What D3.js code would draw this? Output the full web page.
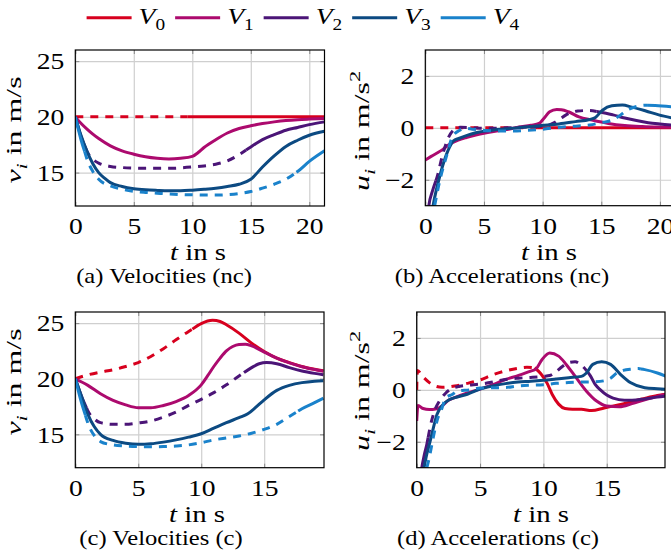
<!DOCTYPE html>
<html>
<head>
<meta charset="utf-8">
<script src="https://cdn.jsdelivr.net/npm/d3@7"></script>
<style>
  body { margin: 0; background: #fff; }
  text { font-family: "Liberation Serif", "Times New Roman", serif; fill: #000; }
</style>
</head>
<body>
<svg id="fig" width="671" height="556"></svg>
<script>
var vehicles = ["0", "1", "2", "3", "4"];
var colors = ["#d7001e", "#ac0a6e", "#4b1577", "#0c4a82", "#1a82cb"];

// dashed time intervals per vehicle (null = solid all the way)
var dashNc = [[0, 9.6], null, [0.9, 14.6], null, [0.8, 18.9]];
var dashC = [[0, 9.3], null, [0.9, 13.4], null, [0.8, 17.7]];

// (a) velocities, no coordination
var velNc0 = [[0,20],[21.3,20]];
var velNc1 = [[0,20],[0.5,19.4],[1,18.9],[1.5,18.45],[2,18.05],[3,17.4],[4,16.95],[5,16.65],[6,16.42],[7,16.28],[8,16.22],[9,16.28],[10,16.45],[10.5,16.8],[11,17.25],[12,17.95],[13,18.55],[14,18.95],[15,19.2],[16,19.4],[17,19.55],[18,19.67],[19,19.75],[20,19.8],[21.3,19.85]];
var velNc2 = [[0,20],[0.5,18.2],[1,16.9],[1.5,16.2],[2,15.85],[3,15.55],[4,15.45],[5,15.4],[6,15.38],[7,15.38],[8,15.38],[9,15.42],[10,15.5],[11,15.6],[12,15.75],[13,16.05],[14,16.6],[15,17.3],[16,17.95],[17,18.4],[18,18.8],[19,19.05],[20,19.3],[21.3,19.55]];
var velNc3 = [[0,20],[0.5,18.3],[1,16.9],[1.5,15.8],[2,15.0],[2.5,14.5],[3,14.1],[4,13.75],[5,13.55],[6,13.45],[7,13.4],[8,13.37],[9,13.37],[10,13.42],[11,13.5],[12,13.6],[13,13.75],[14,13.95],[15,14.4],[16,15.5],[17,16.5],[18,17.35],[19,17.9],[20,18.35],[21.3,18.7]];
var velNc4 = [[0,20],[0.5,17.9],[1,16.2],[1.5,15.1],[2,14.4],[3,13.8],[4,13.5],[5,13.32],[6,13.22],[7,13.15],[8,13.08],[9,13.03],[10,13.0],[11,12.98],[12,12.98],[13,13.02],[14,13.12],[15,13.3],[16,13.6],[17,13.95],[18,14.4],[19,15.1],[20,16.0],[21.3,16.95]];

// (b) accelerations, no coordination
var accNc0 = [[0,0],[21.3,0]];
var accNc1 = [[0,-1.24],[0.5,-1.1],[1,-0.97],[1.5,-0.83],[2,-0.65],[2.8,-0.47],[3.5,-0.37],[4.3,-0.28],[5,-0.21],[5.7,-0.15],[6.5,-0.09],[7.1,-0.05],[8,0.03],[9,0.1],[9.7,0.17],[10.1,0.36],[10.6,0.62],[11.2,0.71],[11.6,0.7],[12.2,0.62],[13.1,0.42],[14.2,0.3],[15.6,0.17],[17,0.09],[18.5,0.05],[19.9,0.03],[21.3,0.02]];
var accNc2 = [[0,-4.6],[0.3,-3.0],[0.6,-2.45],[1,-1.9],[1.5,-1.0],[2,-0.35],[2.5,-0.05],[3,0.02],[4,0.0],[5,-0.02],[6,-0.02],[7,0.0],[8,0.02],[9,0.04],[10,0.07],[10.5,0.1],[11,0.2],[11.5,0.35],[12,0.5],[12.5,0.6],[13,0.65],[14,0.67],[15,0.6],[16,0.5],[17,0.38],[18,0.28],[19,0.2],[20,0.15],[21.3,0.1]];
var accNc3 = [[0,-5],[0.66,-3.0],[1.3,-1.75],[1.95,-0.86],[2.4,-0.5],[2.85,-0.41],[3.5,-0.3],[4.3,-0.19],[5.7,-0.09],[7.1,-0.03],[8.5,0.03],[9.9,0.09],[11.4,0.15],[12.8,0.24],[14,0.32],[14.5,0.4],[15.1,0.68],[15.9,0.85],[16.8,0.88],[17.6,0.8],[18.8,0.65],[19.9,0.5],[21.3,0.36]];
var accNc4 = [[0,-5.5],[0.8,-3.0],[1.2,-2.1],[1.8,-1.1],[2.3,-0.35],[2.9,-0.1],[3.4,-0.02],[4,-0.05],[5,-0.1],[6,-0.12],[7,-0.12],[8.5,-0.1],[9.8,-0.06],[11,0.0],[12,0.04],[13,0.07],[14,0.11],[15,0.2],[15.8,0.28],[16.5,0.45],[17.2,0.68],[18,0.82],[18.8,0.87],[19.6,0.86],[21.3,0.8]];

// (c) velocities, coordinated
var velC0 = [[0,20],[1,20.35],[2,20.6],[3,20.8],[4,21.1],[5,21.45],[6,22.0],[7,22.7],[8,23.5],[9,24.25],[10,24.95],[10.9,25.25],[11.5,25.15],[12,24.85],[13,24.1],[14,23.2],[15,22.45],[16,21.85],[17,21.45],[18,21.1],[19,20.85],[19.7,20.72]];
var velC1 = [[0,20],[1,19.4],[2,18.65],[3,18.05],[4,17.65],[5,17.4],[6,17.4],[7,17.6],[8,17.95],[9,18.5],[10,19.45],[10.5,20.25],[11,21.1],[11.5,21.85],[12,22.5],[12.5,22.9],[13,23.08],[13.5,23.1],[14,22.95],[15,22.4],[16,21.85],[17,21.42],[18,21.08],[19,20.83],[19.7,20.68]];
var velC2 = [[0,20],[0.5,18.4],[1,17.1],[1.5,16.4],[2,16.05],[3,15.9],[4,15.9],[5,16.02],[6,16.2],[7,16.55],[8,17.0],[9,17.6],[10,18.15],[11,18.75],[12,19.45],[13,20.25],[14,21.0],[14.6,21.35],[15.2,21.45],[16,21.35],[17,21.0],[18,20.7],[19,20.48],[19.7,20.35]];
var velC3 = [[0,20],[0.5,18.4],[1,16.8],[1.5,15.7],[2,15.0],[3,14.45],[4,14.2],[5,14.1],[6,14.15],[7,14.3],[8,14.5],[9,14.75],[10,15.05],[11,15.55],[12,16.05],[13,16.5],[13.7,16.85],[14.3,17.4],[15,18.1],[16,18.95],[17,19.4],[18,19.65],[19,19.78],[19.7,19.82]];
var velC4 = [[0,20],[0.5,17.8],[1,16.0],[1.5,14.9],[2,14.35],[3,14.05],[4,13.95],[5,13.9],[6,13.88],[7,13.9],[8,13.95],[9,14.05],[10,14.25],[11,14.5],[12,14.68],[13,14.85],[14,15.1],[15,15.45],[16,15.9],[17,16.6],[18,17.3],[19,17.85],[19.7,18.25]];

// (d) accelerations, coordinated
var accC0 = [[0,0],[0.05,0.75],[0.5,0.5],[1,0.28],[1.5,0.14],[2,0.1],[3,0.15],[4,0.25],[5,0.38],[6,0.58],[7,0.73],[8,0.83],[8.7,0.87],[9.3,0.85],[9.8,0.62],[10.3,0.25],[10.7,-0.18],[11.2,-0.55],[11.7,-0.72],[12.3,-0.75],[13,-0.75],[13.8,-0.8],[14.8,-0.7],[16,-0.57],[17,-0.45],[18,-0.33],[19,-0.22],[19.7,-0.16]];
var accC1 = [[0,-1.2],[0.1,-0.6],[0.5,-0.72],[1,-0.76],[1.5,-0.74],[2,-0.62],[2.5,-0.4],[3,-0.3],[4,-0.12],[5,0.03],[6,0.2],[7,0.4],[8,0.55],[9,0.72],[9.4,0.8],[9.9,1.17],[10.5,1.42],[11.2,1.3],[11.8,0.98],[12.6,0.46],[13.4,-0.05],[14.2,-0.43],[15,-0.62],[16,-0.65],[17,-0.53],[18,-0.38],[19,-0.25],[19.7,-0.17]];
var accC2 = [[0,-4.6],[0.4,-3.0],[0.6,-2.5],[0.8,-2.1],[1.05,-1.46],[1.4,-0.82],[1.8,-0.43],[2.3,-0.12],[2.6,0.0],[3.4,0.14],[4,0.18],[5,0.22],[6,0.3],[7,0.4],[8,0.45],[9,0.48],[10,0.52],[10.5,0.55],[11,0.7],[11.5,0.9],[12,1.05],[12.5,1.08],[13,0.95],[13.4,0.75],[13.7,0.55],[14.1,0.2],[14.5,0.0],[15,-0.2],[15.5,-0.32],[16.4,-0.4],[17,-0.4],[18,-0.35],[19,-0.28],[19.7,-0.24]];
var accC3 = [[0,-5],[0.58,-3.0],[0.74,-2.6],[1,-2.1],[1.2,-1.7],[1.6,-0.95],[2.1,-0.56],[2.6,-0.37],[3,-0.3],[4,-0.17],[5,0.03],[6,0.15],[7,0.24],[8,0.3],[9,0.33],[10,0.37],[11,0.42],[12,0.47],[13,0.52],[13.4,0.65],[13.9,0.98],[14.6,1.08],[15.3,0.98],[16.1,0.59],[16.9,0.27],[18,0.08],[19,0.04],[19.7,0.02]];
var accC4 = [[0,-5.5],[0.8,-3.0],[1.0,-2.6],[1.3,-1.85],[1.6,-1.2],[2.0,-0.7],[2.3,-0.3],[2.8,-0.18],[3.2,-0.05],[4.2,0.0],[5,0.07],[6,0.08],[7,0.09],[8,0.15],[9,0.18],[10,0.2],[11,0.25],[12,0.28],[13,0.3],[14,0.31],[14.8,0.35],[15.3,0.45],[15.8,0.65],[16.3,0.75],[17,0.8],[17.5,0.82],[18,0.78],[19,0.65],[19.7,0.52]];

var velTicks = [15, 20, 25];
var accTicks = [-2, 0, 2];
var timeTicksNc = [0, 5, 10, 15, 20];
var timeTicksC = [0, 5, 10, 15];

var SX = 1.2;       // the figure is stretched horizontally
var LW = 3;
var DASH = "8,7";

var svg = d3.select("#fig");

// text with parts [{t, it, sub, sup}] placed at x,y, stretched horizontally
function label(parent, x, y, parts, size, anchor, rot, sx) {
  var g = parent.append("g")
    .attr("transform", "translate(" + x + "," + y + ")" + (rot ? " rotate(" + rot + ")" : "") + " scale(" + (sx || SX) + ",1)");
  var t = g.append("text").attr("font-size", size).attr("text-anchor", anchor || "start");
  var shift = 0;
  parts.forEach(function (p) {
    var s = t.append("tspan").text(p.t);
    var want = p.sub ? size * 0.28 : (p.sup ? -size * 0.42 : 0);
    if (want !== shift) { s.attr("dy", want - shift); shift = want; }
    if (p.it) s.attr("font-style", "italic");
    if (p.sub || p.sup) s.attr("font-size", size * 0.7);
  });
  return g;
}

function interp(pts, t) {
  for (var i = 1; i < pts.length; i++) {
    if (pts[i][0] >= t) {
      var a = pts[i - 1], b = pts[i];
      var f = (t - a[0]) / (b[0] - a[0]);
      return [t, a[1] + f * (b[1] - a[1])];
    }
  }
  return pts[pts.length - 1];
}
function slice(pts, t0, t1) {
  var out = [interp(pts, t0)];
  pts.forEach(function (p) { if (p[0] > t0 && p[0] < t1) out.push(p); });
  out.push(interp(pts, t1));
  return out;
}

function panel(cfg) {
  var x = d3.scaleLinear().domain([0, cfg.xmax]).range([cfg.left, cfg.right]);
  var y = d3.scaleLinear().domain([cfg.ymin, cfg.ymax]).range([cfg.bottom, cfg.top]);
  var w = cfg.right - cfg.left, h = cfg.bottom - cfg.top;

  // grid
  svg.append("g")
    .attr("transform", "translate(0," + cfg.bottom + ")")
    .call(d3.axisBottom(x).tickValues(cfg.xt).tickSize(-h).tickFormat(""))
    .call(function (g) { g.select(".domain").remove(); g.selectAll("line").attr("stroke", "#cfcfcf").attr("stroke-width", 1.2); });
  svg.append("g")
    .attr("transform", "translate(" + cfg.left + ",0)")
    .call(d3.axisLeft(y).tickValues(cfg.yt).tickSize(-w).tickFormat(""))
    .call(function (g) { g.select(".domain").remove(); g.selectAll("line").attr("stroke", "#cfcfcf").attr("stroke-width", 1.2); });

  // small inner tick marks on all four sides
  [["b", cfg.bottom], ["t", cfg.top]].forEach(function (s) {
    svg.append("g")
      .attr("transform", "translate(0," + s[1] + ")")
      .call((s[0] === "b" ? d3.axisBottom(x) : d3.axisTop(x)).tickValues(cfg.xt).tickSize(-4).tickFormat(""))
      .call(function (g) { g.select(".domain").remove(); g.selectAll("line").attr("stroke", "#888"); });
  });
  [["l", cfg.left], ["r", cfg.right]].forEach(function (s) {
    svg.append("g")
      .attr("transform", "translate(" + s[1] + ",0)")
      .call((s[0] === "l" ? d3.axisLeft(y) : d3.axisRight(y)).tickValues(cfg.yt).tickSize(-4).tickFormat(""))
      .call(function (g) { g.select(".domain").remove(); g.selectAll("line").attr("stroke", "#888"); });
  });

  // curves
  var clipId = "clip" + cfg.id;
  svg.append("clipPath").attr("id", clipId)
    .append("rect").attr("x", cfg.left).attr("y", cfg.top).attr("width", w).attr("height", h);
  var lines = svg.append("g").attr("clip-path", "url(#" + clipId + ")");
  var line = d3.line().x(function (d) { return x(d[0]); }).y(function (d) { return y(d[1]); }).curve(d3.curveMonotoneX);

  cfg.series.forEach(function (pts, i) {
    var tEnd = pts[pts.length - 1][0];
    var iv = cfg.dash[i];
    var segs = iv ? [[0, iv[0], false], [iv[0], iv[1], true], [iv[1], tEnd, false]] : [[0, tEnd, false]];
    segs.forEach(function (s) {
      if (s[1] - s[0] <= 0) return;
      lines.append("path")
        .datum(slice(pts, s[0], s[1]))
        .attr("fill", "none")
        .attr("stroke", colors[i])
        .attr("stroke-width", LW)
        .attr("stroke-dasharray", s[2] ? DASH : null)
        .attr("d", line);
    });
  });

  // frame
  svg.append("rect").attr("x", cfg.left).attr("y", cfg.top).attr("width", w).attr("height", h)
    .attr("fill", "none").attr("stroke", "#000").attr("stroke-width", 1.2);

  // tick labels
  var xa = svg.append("g").attr("transform", "translate(0," + cfg.bottom + ")")
    .call(d3.axisBottom(x).tickValues(cfg.xt).tickSize(0).tickFormat(d3.format("d")));
  xa.select(".domain").remove();
  xa.selectAll("text").attr("x", null).attr("y", null).attr("dy", null)
    .attr("font-size", 23).attr("font-family", null)
    .attr("transform", "translate(0,28) scale(" + SX + ",1)");
  var ya = svg.append("g").attr("transform", "translate(" + cfg.left + ",0)")
    .call(d3.axisLeft(y).tickValues(cfg.yt).tickSize(0).tickFormat(function (d) { return d < 0 ? "\u2212" + (-d) : d; }));
  ya.select(".domain").remove();
  ya.selectAll("text").attr("x", null).attr("dy", "0.34em")
    .attr("font-size", 23).attr("font-family", null)
    .attr("transform", "translate(-11,0) scale(" + SX + ",1)");

  // axis labels and caption
  label(svg, cfg.xlab[0], cfg.xlab[1], [{ t: "t", it: true }, { t: " in s" }], 24, "middle");
  label(svg, cfg.ylab[0], cfg.ylab[1], cfg.ylabParts, 22, "middle", -90, 1.45);
  label(svg, cfg.cap[0], cfg.cap[1], [{ t: cfg.capText }], 20.5, "middle");
}

var velLabel = [{ t: "v", it: true }, { t: "i", it: true, sub: true }, { t: " in m/s" }];
var accLabel = [{ t: "u", it: true }, { t: "i", it: true, sub: true }, { t: " in m/s" }, { t: "2", sup: true }];

panel({ id: "a", left: 75.3, right: 324.5, top: 50, bottom: 206, xmax: 21.3, ymin: 12, ymax: 26,
  xt: timeTicksNc, yt: velTicks, series: [velNc0, velNc1, velNc2, velNc3, velNc4], dash: dashNc,
  xlab: [198, 260], ylab: [21, 130], ylabParts: velLabel, cap: [164, 283], capText: "(a) Velocities (nc)" });
panel({ id: "b", left: 425.3, right: 675.2, top: 50, bottom: 205.7, xmax: 21.3, ymin: -3, ymax: 3,
  xt: timeTicksNc, yt: accTicks, series: [accNc0, accNc1, accNc2, accNc3, accNc4], dash: dashNc,
  xlab: [549, 260], ylab: [369, 131], ylabParts: accLabel, cap: [502, 283], capText: "(b) Accelerations (nc)" });
panel({ id: "c", left: 75.3, right: 324, top: 312, bottom: 467.7, xmax: 19.75, ymin: 12, ymax: 26,
  xt: timeTicksC, yt: velTicks, series: [velC0, velC1, velC2, velC3, velC4], dash: dashC,
  xlab: [197, 522], ylab: [21, 382], ylabParts: velLabel, cap: [161, 545], capText: "(c) Velocities (c)" });
panel({ id: "d", left: 416.7, right: 665, top: 312, bottom: 467.7, xmax: 19.6, ymin: -3, ymax: 3,
  xt: timeTicksC, yt: accTicks, series: [accC0, accC1, accC2, accC3, accC4], dash: dashC,
  xlab: [541, 522], ylab: [369, 391], ylabParts: accLabel, cap: [498, 545], capText: "(d) Accelerations (c)" });

// legend
var lx = d3.scalePoint().domain(vehicles).range([86.6, 440.7]);
vehicles.forEach(function (v, i) {
  svg.append("line").attr("x1", lx(v)).attr("x2", lx(v) + 45).attr("y1", 17.7).attr("y2", 17.7)
    .attr("stroke", colors[i]).attr("stroke-width", LW);
  label(svg, lx(v) + 52, 23.5, [{ t: "V", it: true }, { t: v, sub: true }], 23, "start");
});
</script>
</body>
</html>
